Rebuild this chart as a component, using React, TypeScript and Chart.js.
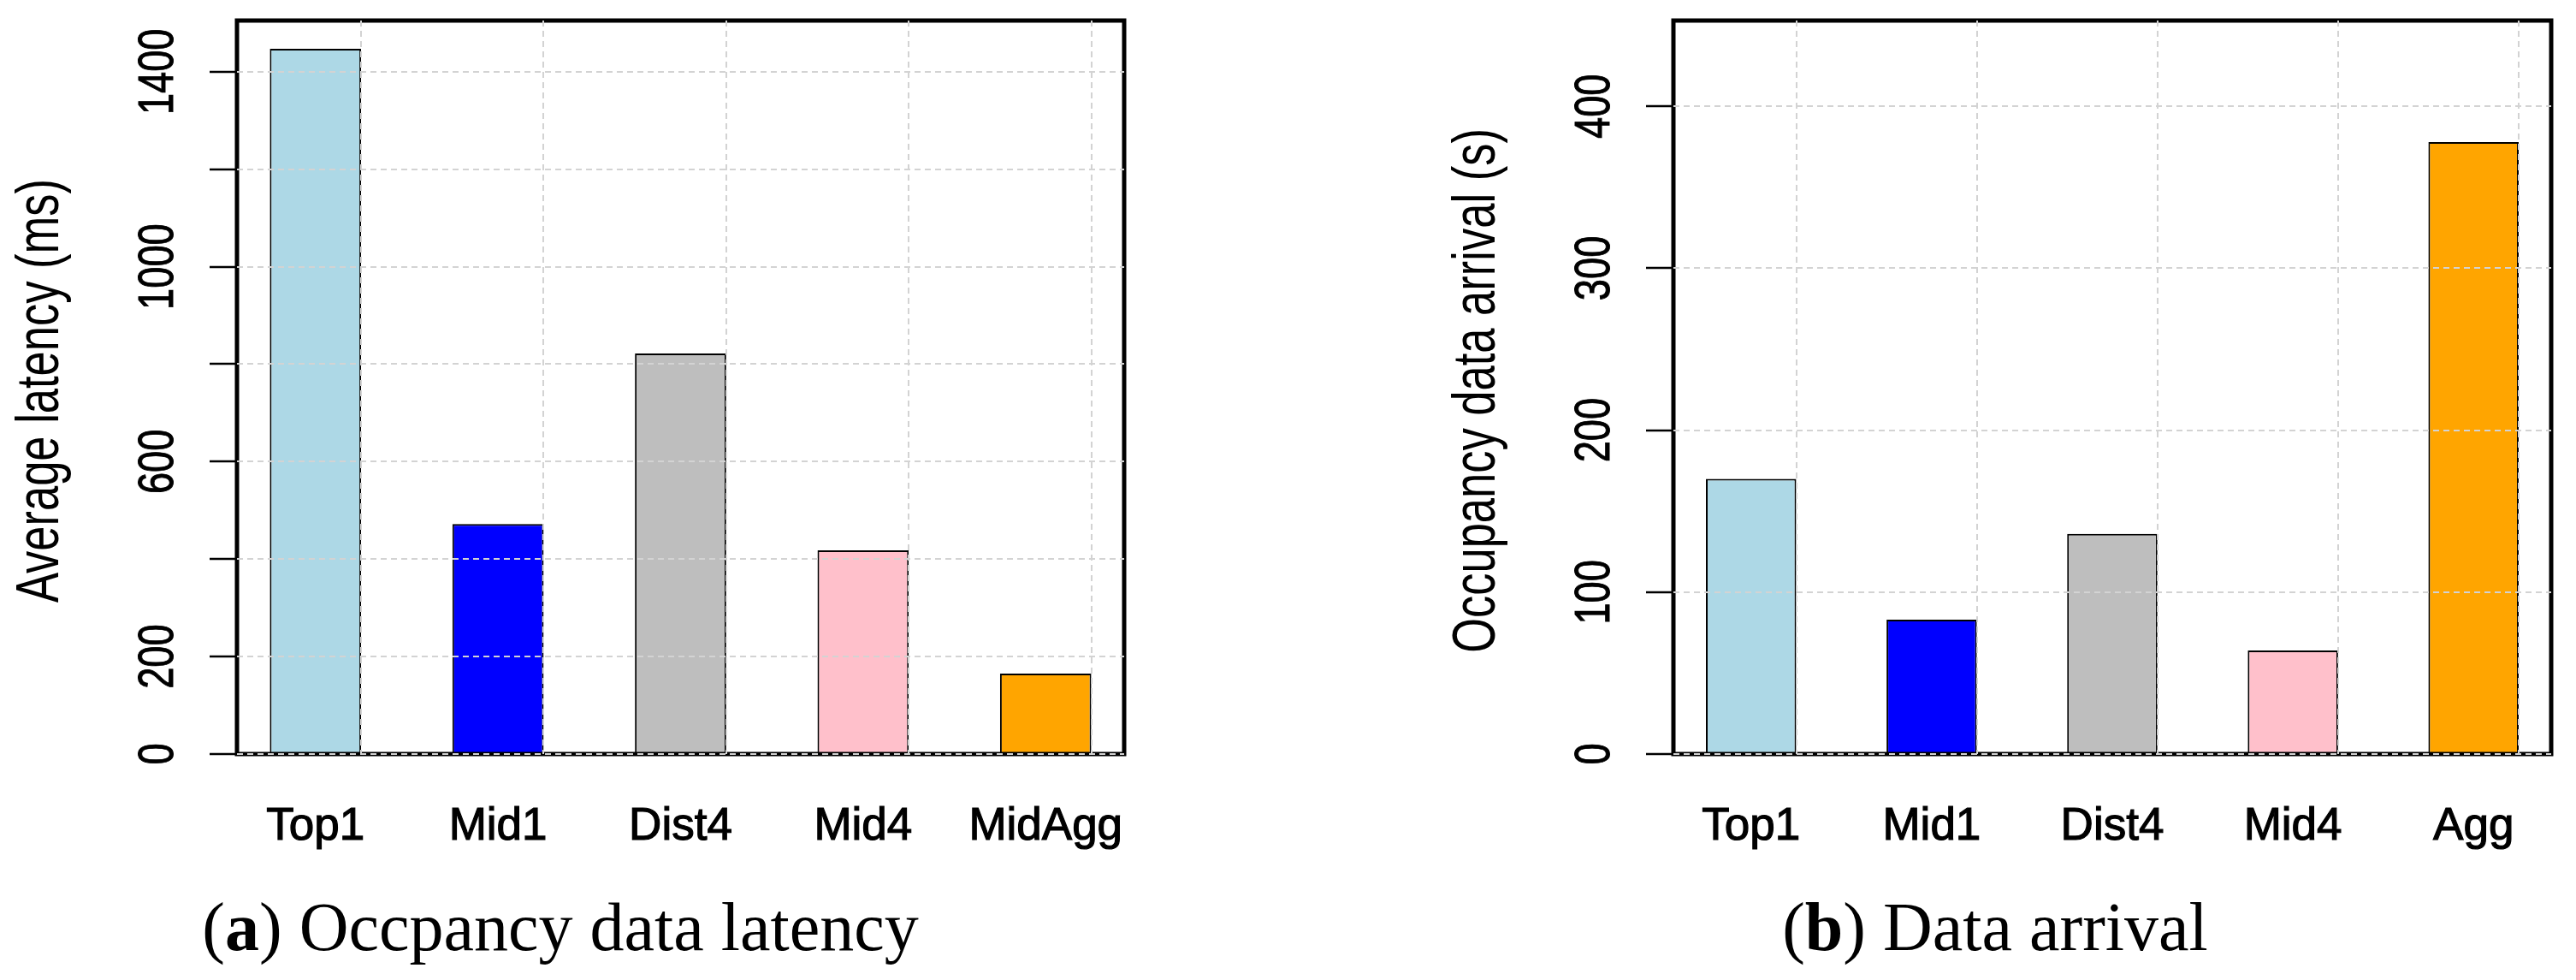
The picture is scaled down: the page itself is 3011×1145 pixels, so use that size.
import React, { useEffect, useRef } from 'react';
import { Chart, registerables } from 'chart.js';

Chart.register(...registerables);

// ---- data ----
const categoriesA = ['Top1', 'Mid1', 'Dist4', 'Mid4', 'MidAgg'];
const latencyMs = [1447, 472, 822, 418, 165];
const yTicksA = [0, 200, 400, 600, 800, 1000, 1200, 1400];
const yLabelsA = [0, 200, 600, 1000, 1400];

const categoriesB = ['Top1', 'Mid1', 'Dist4', 'Mid4', 'Agg'];
const arrivalS = [170, 83, 136, 64, 378];
const yTicksB = [0, 100, 200, 300, 400];
const yLabelsB = [0, 100, 200, 300, 400];

const barColors = ['#ADD8E6', '#0000FF', '#BEBEBE', '#FFC0CB', '#FFA500'];

// ---- style / layout ----
const SANS = "'Liberation Sans', Arial, Helvetica, sans-serif";
const SERIF = "'Liberation Serif', 'DejaVu Serif', serif";
const CANVAS_H = 1040;
const PLOT_TOP = 24;
const PLOT_BOTTOM = 881;
const X_EXT = 0.43;
const TICK_FONT = 58;
const TITLE_FONT = 70;
const TICK_LEN = 32;

const overlayPlugin = {
  id: 'rOverlay',
  afterDatasetsDraw(chart: any) {
    const { ctx, chartArea } = chart;
    const { left, right, top, bottom } = chartArea;
    const y = chart.scales.y;
    const meta = chart.getDatasetMeta(0);
    ctx.save();
    // y tick marks
    ctx.strokeStyle = '#000';
    ctx.lineWidth = 2.7;
    ctx.setLineDash([]);
    ctx.beginPath();
    y.ticks.forEach((t: any) => {
      const py = Math.round(y.getPixelForValue(t.value));
      ctx.moveTo(left - TICK_LEN, py);
      ctx.lineTo(left, py);
    });
    ctx.stroke();
    // box
    ctx.lineWidth = 5;
    ctx.strokeRect(left, top, right - left, bottom - top);
    // grid drawn on top of bars (R grid())
    ctx.strokeStyle = '#d3d3d3';
    ctx.lineWidth = 2;
    ctx.setLineDash([7, 5]);
    ctx.beginPath();
    y.ticks.forEach((t: any) => {
      const py = Math.round(y.getPixelForValue(t.value));
      ctx.moveTo(left, py);
      ctx.lineTo(right, py);
    });
    meta.data.forEach((bar: any) => {
      const p = bar.getProps(['x', 'width'], true);
      const px = Math.round(p.x + p.width / 2);
      ctx.moveTo(px, top);
      ctx.lineTo(px, bottom);
    });
    ctx.stroke();
    ctx.restore();
  },
};

// Rotated y tick labels and y title, condensed along the reading direction
function makeAxisTextPlugin(yLabels: number[], yTitle: string) {
  return {
    id: 'rAxisText',
    afterDraw(chart: any) {
      const { ctx, chartArea } = chart;
      const { left, top, bottom } = chartArea;
      const y = chart.scales.y;
      ctx.save();
      ctx.fillStyle = '#000';
      ctx.strokeStyle = '#000';
      ctx.textAlign = 'center';
      ctx.textBaseline = 'alphabetic';
      ctx.font = `${TICK_FONT}px ${SANS}`;
      ctx.lineWidth = 1;
      yLabels.forEach((v) => {
        const py = y.getPixelForValue(v);
        ctx.save();
        ctx.translate(left - 96, py);
        ctx.rotate(-Math.PI / 2);
        ctx.scale(0.78, 1);
        ctx.fillText(String(v), 0, 0.358 * TICK_FONT);
        ctx.strokeText(String(v), 0, 0.358 * TICK_FONT);
        ctx.restore();
      });
      ctx.font = `${TITLE_FONT}px ${SANS}`;
      ctx.save();
      ctx.translate(left - 209, (top + bottom) / 2 + 4);
      ctx.rotate(-Math.PI / 2);
      ctx.scale(0.75, 1);
      ctx.fillText(yTitle, 0, 0);
      ctx.restore();
      ctx.restore();
    },
  };
}

type PanelProps = {
  categories: string[];
  values: number[];
  yTicks: number[];
  yLabels: number[];
  yMax: number;
  yTitle: string;
  left: number;
  width: number;
  yAxisWidth: number;
  rightPad: number;
};

function BarPanel(props: PanelProps) {
  const ref = useRef<HTMLCanvasElement | null>(null);
  useEffect(() => {
    const { categories, values, yTicks, yLabels, yMax, yTitle, yAxisWidth, rightPad } = props;
    const chart = new Chart(ref.current as HTMLCanvasElement, {
      type: 'bar',
      data: {
        datasets: [
          {
            data: values.map((v, i) => ({ x: i, y: v })),
            backgroundColor: barColors,
            borderColor: '#000',
            borderWidth: 2,
            barPercentage: 0.5,
            categoryPercentage: 1,
          } as any,
        ],
      },
      options: {
        animation: false,
        responsive: false,
        devicePixelRatio: 1,
        layout: { padding: { top: PLOT_TOP, right: rightPad, left: 0, bottom: 0 } },
        plugins: { legend: { display: false }, tooltip: { enabled: false } },
        scales: {
          x: {
            type: 'linear',
            min: -X_EXT,
            max: categories.length - 1 + X_EXT,
            offset: false,
            grid: { display: false, drawTicks: false },
            border: { display: false },
            afterBuildTicks: (s: any) => {
              s.ticks = categories.map((_, i) => ({ value: i }));
            },
            afterFit: (s: any) => {
              s.height = CANVAS_H - PLOT_BOTTOM;
              s.paddingLeft = 0;
              s.paddingRight = 0;
            },
            ticks: {
              autoSkip: false,
              maxRotation: 0,
              minRotation: 0,
              padding: 54,
              color: '#000',
              textStrokeColor: '#000',
              textStrokeWidth: 1.2,
              font: { family: SANS, size: 53 },
              callback: (_v: any, i: number) => categories[i],
            },
          } as any,
          y: {
            type: 'linear',
            min: 0,
            max: yMax,
            afterBuildTicks: (s: any) => {
              s.ticks = yTicks.map((v) => ({ value: v }));
            },
            afterFit: (s: any) => {
              s.width = yAxisWidth;
              s.paddingTop = 0;
              s.paddingBottom = 0;
            },
            grid: { display: false, drawTicks: false },
            border: { display: false },
            ticks: { display: false, autoSkip: false },
            title: { display: false },
          } as any,
        },
      },
      plugins: [overlayPlugin, makeAxisTextPlugin(yLabels, yTitle)],
    });
    return () => chart.destroy();
  }, []);
  return (
    <canvas
      ref={ref}
      width={props.width}
      height={CANVAS_H}
      style={{ position: 'absolute', left: props.left, top: 0, width: props.width, height: CANVAS_H }}
    />
  );
}

const captionStyle: React.CSSProperties = {
  position: 'absolute',
  top: 1043,
  fontFamily: SERIF,
  fontSize: 80,
  lineHeight: '80px',
  color: '#000',
  whiteSpace: 'nowrap',
  transform: 'translateX(-50%)',
};

export default function App() {
  return (
    <div
      style={{
        position: 'absolute',
        left: 0,
        top: 0,
        width: 3011,
        height: 1145,
        overflow: 'hidden',
        background: '#fff',
      }}
    >
      <BarPanel
        categories={categoriesA}
        values={latencyMs}
        yTicks={yTicksA}
        yLabels={yLabelsA}
        yMax={1505}
        yTitle="Average latency (ms)"
        left={0}
        width={1380}
        yAxisWidth={277}
        rightPad={66}
      />
      <BarPanel
        categories={categoriesB}
        values={arrivalS}
        yTicks={yTicksB}
        yLabels={yLabelsB}
        yMax={453}
        yTitle="Occupancy data arrival (s)"
        left={1678}
        width={1333}
        yAxisWidth={278}
        rightPad={29}
      />
      <div style={{ ...captionStyle, left: 655 }}>
        (<b>a</b>) Occpancy data latency
      </div>
      <div style={{ ...captionStyle, left: 2332 }}>
        (<b>b</b>) Data arrival
      </div>
    </div>
  );
}
